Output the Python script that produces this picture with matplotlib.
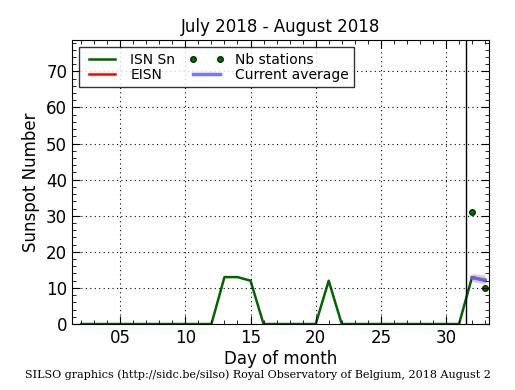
import matplotlib
matplotlib.use("Agg")
import matplotlib.pyplot as plt
from matplotlib.ticker import MultipleLocator, FormatStrFormatter

days = list(range(2, 34))
isn = [0, 0, 0, 0, 0, 0, 0, 0, 0, 0, 0, 13, 13, 12, 0, 0, 0, 0, 0, 12, 0,
       0, 0, 0, 0, 0, 0, 0, 0, 0, 13, 12]
eisn_days = [32, 33]
eisn = [13, 12]
nb_days = [32, 33]
nb_stations = [31, 10]
avg_days = [32, 33]
avg = [12.8, 12.2]
avg_low = [11.8, 11.0]
avg_high = [14.0, 13.6]
month_split = 31.5
title = "July 2018 - August 2018"

fig = plt.figure(figsize=(5.15, 3.9), dpi=100)
ax = fig.add_axes([0.1398, 0.1692, 0.8097, 0.7282])

ax.fill_between(avg_days, avg_low, avg_high, color="#c0c0c0", alpha=0.7, lw=0)
l1, = ax.plot(days, isn, color="#006400", lw=1.8, label="ISN Sn")
l2, = ax.plot(eisn_days, eisn, color="red", lw=1.8, label="EISN")
l3, = ax.plot(nb_days, nb_stations, ls="none", marker="o", ms=4,
              mfc="#007000", mec="#003000", label="Nb stations")
l4, = ax.plot(avg_days, avg, color="#6666ff", lw=2.5, alpha=0.9, label="Current average")
ax.axvline(month_split, color="black", lw=1)

ax.set_xlim(1.3, 33.3)
ax.set_ylim(0, 78.7)
ax.xaxis.set_major_locator(MultipleLocator(5))
ax.xaxis.set_minor_locator(MultipleLocator(1))
ax.xaxis.set_major_formatter(FormatStrFormatter("%02d"))
ax.yaxis.set_major_locator(MultipleLocator(10))
ax.yaxis.set_minor_locator(MultipleLocator(2))
ax.tick_params(which="both", direction="in", top=True, right=True, labelsize=12)
ax.tick_params(which="major", length=6)
ax.tick_params(which="minor", length=3)
ax.grid(True, which="major", ls=(0, (1, 3)), color="black", lw=0.8)
ax.set_axisbelow(False)

ax.set_xlabel("Day of month", fontsize=12, labelpad=2)
ax.set_ylabel("Sunspot Number", fontsize=12)
ax.set_title(title, fontsize=12)

leg = ax.legend(handles=[l1, l2, l3, l4], loc="upper left", ncol=2, numpoints=2,
                fontsize=10, frameon=True, fancybox=False, borderaxespad=0.5,
                handlelength=2.5, columnspacing=1.0, labelspacing=0.1,
                borderpad=0.4)
leg.get_frame().set_edgecolor("black")
leg.get_frame().set_linewidth(1)

fig.text(0.5, 0.03, "SILSO graphics (http://sidc.be/silso) Royal Observatory of Belgium, 2018 August 2",
         ha="center", fontsize=8, family="DejaVu Serif")

fig.savefig("out.png", dpi=100)
